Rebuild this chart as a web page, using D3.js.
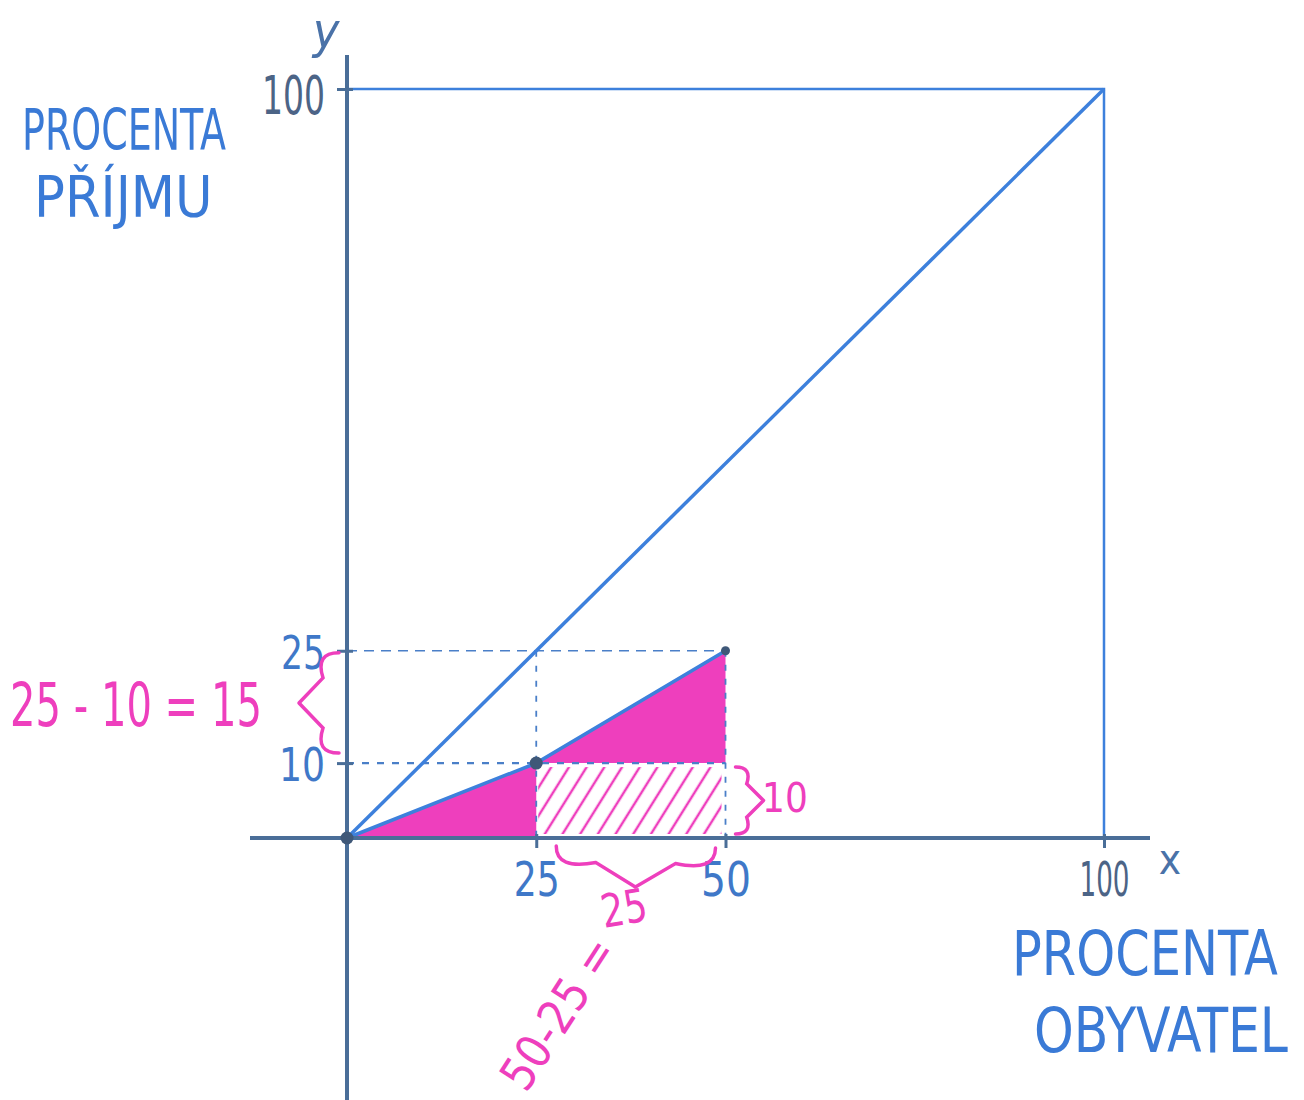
<!DOCTYPE html>
<html>
<head>
<meta charset="utf-8">
<script src="https://cdnjs.cloudflare.com/ajax/libs/d3/7.8.5/d3.min.js"></script>
<style>
  body { margin: 0; background: #ffffff; }
  svg { display: block; }
  .hand { font-family: "DejaVu Sans Condensed", "DejaVu Sans", sans-serif; font-stretch: condensed; }
  .axis path.domain { display: none; }
  .axis line { stroke: #4a6e98; stroke-width: 3px; }
</style>
</head>
<body>
<div id="chart"></div>
<script>
// values
const xTicks = [25, 50, 100];
const yTicks = [10, 25, 100];
const lorenzX = [0, 25, 50];
const lorenzY = [0, 10, 25];
const equalityX = [0, 100];
const equalityY = [0, 100];
const yTitle = ['PROCENTA', 'PŘÍJMU'];
const xTitle = ['PROCENTA', 'OBYVATEL'];
const diffYText = '25 - 10 = 15';
const diffXText = ['50-25 =', '25'];
const rectText = '10';

const W = 1304, H = 1100;
const BLUE = '#3d80dc', AXIS = '#4a6e98', PINK = '#ee3fbd', DARK = '#3f5878';

const x = d3.scaleLinear().domain([0, 100]).range([347, 1104]);
const y = d3.scaleLinear().domain([0, 100]).range([838, 89]);

const svg = d3.select('#chart').append('svg').attr('width', W).attr('height', H);

// squeeze a text horizontally around its anchor so it is as narrow as the handwriting
function squeeze(el, width) {
  const len = el.node().getComputedTextLength();
  const ax = +el.attr('x') || 0, ay = +el.attr('y') || 0;
  const sx = Math.min(1, width / len);
  const rot = el.attr('data-rot');
  let t = rot ? `rotate(${rot},${ax},${ay}) ` : '';
  t += `translate(${ax},${ay}) scale(${sx},1) translate(${-ax},${-ay})`;
  el.attr('transform', t);
}

const defs = svg.append('defs');
const hatch = defs.append('pattern')
  .attr('id', 'hatch').attr('patternUnits', 'userSpaceOnUse')
  .attr('width', 15).attr('height', 15)
  .attr('patternTransform', 'rotate(32)');
hatch.append('line').attr('x1', 4).attr('y1', 0).attr('x2', 4).attr('y2', 15)
  .attr('stroke', PINK).attr('stroke-width', 2.5);

const lorenz = lorenzX.map((d, i) => [d, lorenzY[i]]);
const line = d3.line().x(d => x(d[0])).y(d => y(d[1]));

// shaded areas under the curve
const [p0, p1, p2] = lorenz;
svg.append('path')
  .attr('d', line([p0, p1, [p1[0], p0[1]]]) + 'Z')
  .attr('fill', PINK);
svg.append('path')
  .attr('d', line([p1, p2, [p2[0], p1[1]]]) + 'Z')
  .attr('fill', PINK);
svg.append('rect')
  .attr('x', x(p1[0]) + 2).attr('y', y(p1[1]) + 4)
  .attr('width', x(p2[0]) - x(p1[0]) - 6).attr('height', y(0) - y(p1[1]) - 8)
  .attr('fill', 'url(#hatch)');

// dotted helper lines
const guides = [
  [[0, p2[1]], [p2[0], p2[1]], '10 7', 1.6],
  [[0, p1[1]], [p2[0], p1[1]], '7 8', 2.2],
  [[p1[0], p2[1]], [p1[0], 0], '6 9', 1.8],
  [[p2[0], p2[1]], [p2[0], 0], '6 8', 1.8]
];
guides.forEach(g => {
  svg.append('path').attr('d', line([g[0], g[1]]))
    .attr('stroke', '#4a7fc8').attr('stroke-width', g[3])
    .attr('stroke-dasharray', g[2]).attr('fill', 'none');
});

// frame of the square
svg.append('path')
  .attr('d', line([[0, 100], [100, 100], [100, 0]]))
  .attr('stroke', BLUE).attr('stroke-width', 2.5).attr('fill', 'none');

// equality line
svg.append('path')
  .attr('d', line(equalityX.map((d, i) => [d, equalityY[i]])))
  .attr('stroke', BLUE).attr('stroke-width', 3.5).attr('fill', 'none');

// lorenz curve
svg.append('path').attr('d', line(lorenz))
  .attr('stroke', BLUE).attr('stroke-width', 3.5).attr('fill', 'none');

// axes
svg.append('line')
  .attr('x1', x(0)).attr('y1', 55).attr('x2', x(0)).attr('y2', H)
  .attr('stroke', AXIS).attr('stroke-width', 4);
svg.append('line')
  .attr('x1', 250).attr('y1', y(0)).attr('x2', 1150).attr('y2', y(0))
  .attr('stroke', AXIS).attr('stroke-width', 4);

const yLabelW = { 100: 63, 25: 44, 10: 46 };
const yAxis = svg.append('g').attr('class', 'axis hand')
  .attr('transform', `translate(${x(0) + 6},0)`)
  .call(d3.axisLeft(y).tickValues(yTicks).tickSize(16).tickPadding(12));
yAxis.selectAll('.tick text')
  .attr('fill', d => d === 100 ? '#4c6486' : '#3f78c8')
  .attr('font-size', d => d === 100 ? '54px' : '46px')
  .attr('dy', d => d === 100 ? '0.45em' : '0.38em')
  .each(function (d) { squeeze(d3.select(this), yLabelW[d]); });

const xLabelW = { 25: 46, 50: 50, 100: 50 };
const xAxis = svg.append('g').attr('class', 'axis hand')
  .attr('transform', `translate(0,${y(0) - 4})`)
  .call(d3.axisBottom(x).tickValues(xTicks).tickSize(14).tickPadding(14));
xAxis.selectAll('.tick text')
  .attr('fill', d => d === 100 ? '#4c6486' : '#3f78c8')
  .attr('font-size', '48px')
  .each(function (d) { squeeze(d3.select(this), xLabelW[d]); });

// points
svg.append('g').selectAll('circle').data(lorenz).join('circle')
  .attr('cx', d => x(d[0])).attr('cy', d => y(d[1]))
  .attr('r', (d, i) => i === 2 ? 4.5 : 6.5)
  .attr('fill', DARK);

// axis letters
svg.append('text').attr('class', 'hand')
  .attr('x', 326).attr('y', 48).attr('font-size', '50px').attr('font-style', 'italic')
  .attr('fill', '#4a72a8').attr('text-anchor', 'middle').text('y');
svg.append('text').attr('class', 'hand')
  .attr('x', 1170).attr('y', 874).attr('font-size', '42px')
  .attr('fill', '#4a72a8').attr('text-anchor', 'middle').text('x');

// titles
const title = (lines, x0, baselines, widths, size) => {
  lines.forEach((t, i) => {
    const el = svg.append('text').attr('class', 'hand')
      .attr('x', x0[i]).attr('y', baselines[i])
      .attr('font-size', size + 'px').attr('fill', '#3a7ad6')
      .text(t);
    squeeze(el, widths[i]);
  });
};
title(yTitle, [22, 34], [150, 217], [204, 182], 57);
title(xTitle, [1012, 1034], [975, 1052], [266, 254], 62);

// pink annotations
const pinkText = (t, px, py, size, len, rot) => {
  const el = svg.append('text').attr('class', 'hand')
    .attr('x', px).attr('y', py).attr('font-size', size + 'px')
    .attr('fill', PINK).attr('data-rot', rot || null)
    .text(t);
  squeeze(el, len);
};
pinkText(diffYText, 10, 726, 60, 252);
pinkText(rectText, 762, 812, 40, 46);
pinkText(diffXText[1], 604, 928, 46, 46, -10);
pinkText(diffXText[0], 526, 1094, 48, 170, -57);

function brace(x1, y1, x2, y2, w, q) {
  const len = Math.hypot(x1 - x2, y1 - y2);
  const dx = (x1 - x2) / len, dy = (y1 - y2) / len;
  const p = d3.path();
  const tx = (x1 - 0.5 * len * dx) + w * dy, ty = (y1 - 0.5 * len * dy) - w * dx;
  p.moveTo(x1, y1);
  p.quadraticCurveTo(x1 + q * w * dy, y1 - q * w * dx,
    (x1 - 0.25 * len * dx) + (1 - q) * w * dy, (y1 - 0.25 * len * dy) - (1 - q) * w * dx);
  p.quadraticCurveTo((x1 - 0.375 * len * dx) + w * (1 - q / 2) * dy, (y1 - 0.375 * len * dy) - w * (1 - q / 2) * dx, tx, ty);
  p.moveTo(x2, y2);
  p.quadraticCurveTo(x2 + q * w * dy, y2 - q * w * dx,
    (x1 - 0.75 * len * dx) + (1 - q) * w * dy, (y1 - 0.75 * len * dy) - (1 - q) * w * dx);
  p.quadraticCurveTo((x1 - 0.625 * len * dx) + w * (1 - q / 2) * dy, (y1 - 0.625 * len * dy) - w * (1 - q / 2) * dx, tx, ty);
  return p.toString();
}
const braces = [
  brace(x(0) - 8, y(p2[1]) + 2, x(0) - 8, y(p1[1]) - 10, 40, 0.6),
  brace(x(p2[0]) + 10, y(0) - 4, x(p2[0]) + 10, y(p1[1]) + 4, 28, 0.6),
  brace(x(p1[0]) + 20, y(0) + 8, x(p2[0]) - 10, y(0) + 10, 40, 0.6)
];
braces.forEach(d => {
  svg.append('path').attr('d', d).attr('stroke', PINK).attr('stroke-width', 3.5)
    .attr('fill', 'none').attr('stroke-linecap', 'round');
});
</script>
</body>
</html>
